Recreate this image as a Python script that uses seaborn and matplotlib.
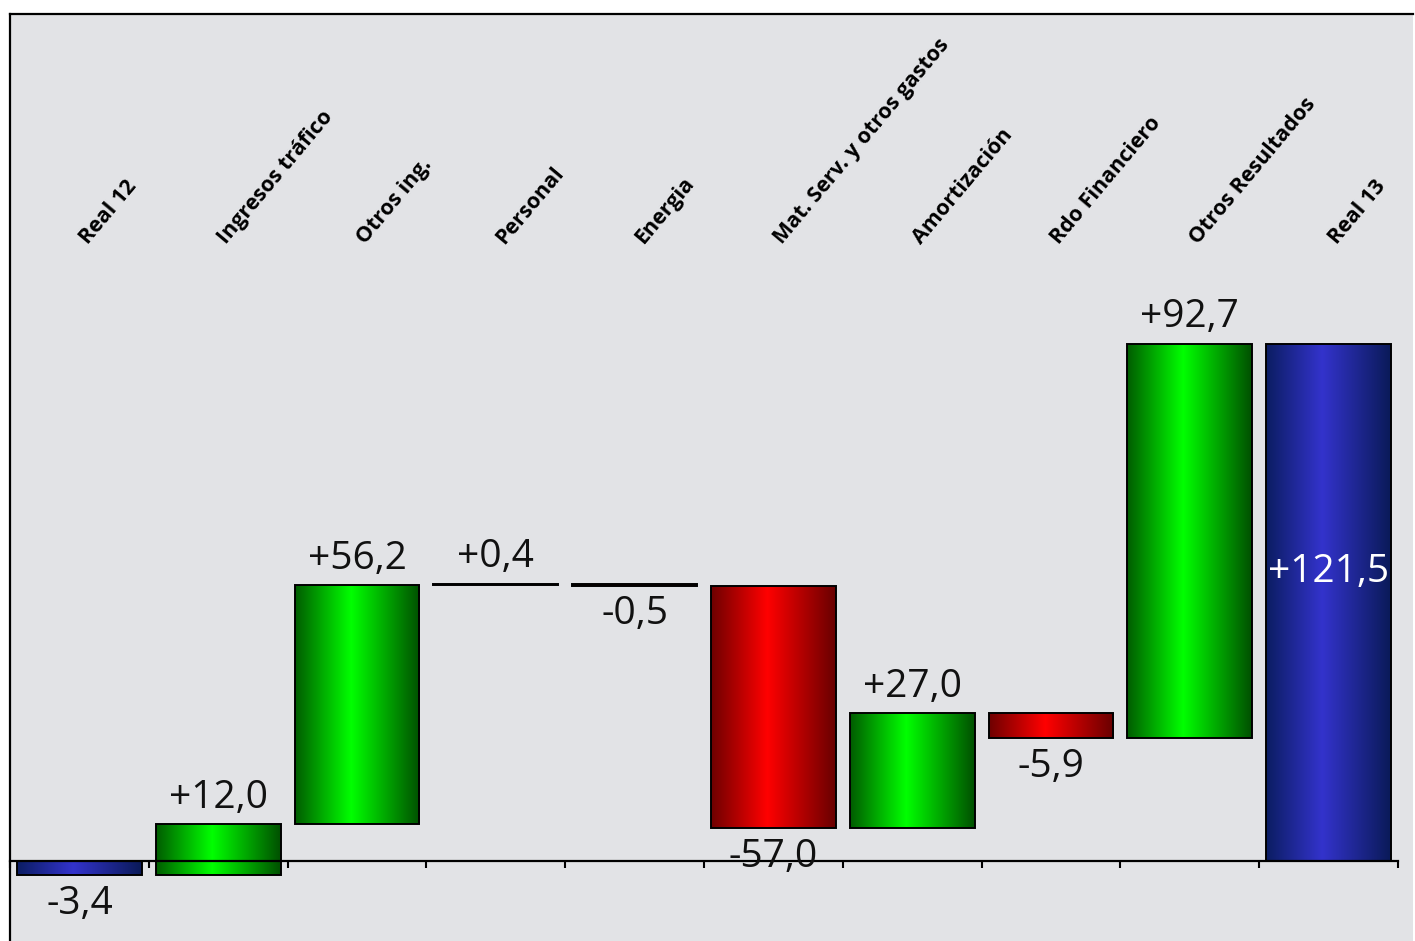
import numpy as np
import matplotlib
matplotlib.use('Agg')
import matplotlib.pyplot as plt
from matplotlib.colors import LinearSegmentedColormap
import seaborn as sns


## DATOS ##

categorias = ['Real 12', 'Ingresos tráfico', 'Otros ing.', 'Personal', 'Energia',
              'Mat. Serv. y otros gastos', 'Amortización', 'Rdo Financiero',
              'Otros Resultados', 'Real 13']
valores = [-3.4, 12.0, 56.2, 0.4, -0.5, -57.0, 27.0, -5.9, 92.7, 121.5]
es_total = [True, False, False, False, False, False, False, False, False, True]


## CALCULO DEL WATERFALL ##

bases = []
acumulado = 0.0
for v, total in zip(valores, es_total):
    if total:
        bases.append(0.0)
        acumulado = v
    else:
        bases.append(acumulado)
        acumulado = acumulado + v


def etiqueta(v):
    return f'{v:+.1f}'.replace('.', ',')


## ESTILO ##

sns.set_theme(style='white')
plt.rcParams['font.family'] = ['Open Sans', 'DejaVu Sans']

# degradados horizontales (oscuro - brillante - oscuro)
cmap_verde = LinearSegmentedColormap.from_list('verde', [(0, '#005c00'), (0.45, '#00ff00'), (1, '#005000')])
cmap_rojo = LinearSegmentedColormap.from_list('rojo', [(0, '#6e0000'), (0.45, '#ff0000'), (1, '#680000')])
cmap_azul = LinearSegmentedColormap.from_list('azul', [(0, '#0b1d62'), (0.45, '#3333cc'), (1, '#0a1a58')])

fig = plt.figure(figsize=(14.15, 9.41), dpi=100)
ax = fig.add_axes([10 / 1415, 0, 1403 / 1415, 927 / 941])
ax.set_facecolor('#e2e3e6')

sns.barplot(x=categorias, y=valores, order=categorias, width=0.9, color='white',
            edgecolor='black', linewidth=1.4, ax=ax, zorder=3)

gradiente = np.linspace(0, 1, 256).reshape(1, -1)
for p, b, v, total in zip(ax.patches, bases, valores, es_total):
    p.set_y(b)
    p.set_facecolor('none')
    if total:
        cm = cmap_azul
    elif v >= 0:
        cm = cmap_verde
    else:
        cm = cmap_rojo
    x0 = p.get_x()
    im = ax.imshow(gradiente, cmap=cm, aspect='auto', interpolation='bilinear',
                   extent=(x0, x0 + p.get_width(), min(b, b + v), max(b, b + v)), zorder=2)
    im.set_clip_path(p)


## ETIQUETAS DE VALOR ##

for i, (b, v, total) in enumerate(zip(bases, valores, es_total)):
    if total and v > 0:
        ax.text(i, 68, etiqueta(v), ha='center', va='center', fontsize=28, color='white', zorder=6)
    elif v >= 0:
        ax.annotate(etiqueta(v), (i, b + v), xytext=(0, 12), textcoords='offset points',
                    ha='center', va='baseline', fontsize=28, color='#111111', zorder=6)
    else:
        ax.annotate(etiqueta(v), (i, b + v), xytext=(0, -7), textcoords='offset points',
                    ha='center', va='top', fontsize=28, color='#111111', zorder=6)


## ETIQUETAS DE CATEGORIA (ARRIBA, EN DIAGONAL) ##

for i, c in enumerate(categorias):
    ax.text(i + 0.06, 144.8, c, rotation=50, rotation_mode='anchor', ha='left', va='baseline',
            fontsize=15.5, fontweight='bold', color='black', zorder=6)


## EJES ##

ax.set_xlim(-0.5, -0.5 + 1403 / 138.8)
ax.set_ylim(-18.8, 199.1)
ax.set_yticks([])
ax.set_xticks(np.arange(-0.5, 10, 1))
ax.set_xticklabels([])
ax.set_xlabel('')
ax.tick_params(axis='x', direction='out', length=5, width=1.5, color='black', bottom=True)

for lado in ['left', 'top', 'bottom']:
    ax.spines[lado].set_visible(True)
    ax.spines[lado].set_color('black')
    ax.spines[lado].set_linewidth(1.6)
ax.spines['right'].set_visible(False)
ax.spines['bottom'].set_position(('data', 0))
ax.spines['bottom'].set_bounds(-0.5, 9.5)
ax.spines['bottom'].set_zorder(5)

fig.savefig('out.png', dpi=100)
